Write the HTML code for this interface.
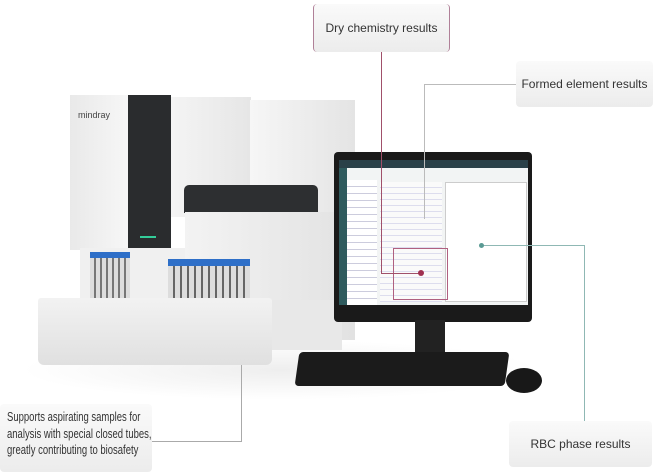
<!DOCTYPE html>
<html><head><style>
body{margin:0;width:659px;height:475px;background:#fff;position:relative;overflow:hidden;font-family:"Liberation Sans",sans-serif;}
div{position:absolute;box-sizing:border-box;}
.box{background:linear-gradient(#fafafa,#ececec);border-radius:4px;color:#333;font-size:12px;display:flex;align-items:center;justify-content:center;white-space:nowrap;}
.ln{background:#8fb8b4;}
.pk{background:#a0506a;}
</style></head><body>
<div style="left:20px;top:340px;width:520px;height:60px;background:radial-gradient(ellipse at center,#eee 0%,#fff 70%);"></div>
<div style="left:70px;top:95px;width:60px;height:155px;background:linear-gradient(90deg,#e9e9e9,#f7f7f7);"></div>
<div style="left:78px;top:110px;font-size:9px;color:#444;">mindray</div>
<div style="left:128px;top:95px;width:43px;height:155px;background:#2a2c2e;"></div>
<div style="left:140px;top:236px;width:16px;height:2px;background:#3c9;"></div>
<div style="left:171px;top:97px;width:80px;height:120px;background:linear-gradient(90deg,#f4f4f4,#e6e6e6);"></div>
<div style="left:250px;top:100px;width:105px;height:112px;background:linear-gradient(90deg,#f6f6f6,#e4e4e4);"></div>
<div style="left:184px;top:185px;width:134px;height:28px;background:#2d2f31;border-radius:5px 5px 0 0;"></div>
<div style="left:185px;top:212px;width:170px;height:128px;background:linear-gradient(90deg,#f3f3f3,#e2e2e2);"></div>
<div style="left:80px;top:248px;width:105px;height:55px;background:#f0f0f0;"></div>
<div style="left:90px;top:252px;width:40px;height:6px;background:#2e6fc8;"></div>
<div style="left:90px;top:258px;width:40px;height:45px;background:repeating-linear-gradient(90deg,#ddd 0 4px,#777 4px 6px);"></div>
<div style="left:168px;top:259px;width:82px;height:7px;background:#2e6fc8;"></div>
<div style="left:168px;top:266px;width:82px;height:42px;background:repeating-linear-gradient(90deg,#ddd 0 5px,#666 5px 7px);"></div>
<div style="left:38px;top:298px;width:234px;height:67px;background:linear-gradient(#f2f2f2,#e0e0e0);border-radius:3px 3px 6px 6px;"></div>
<div style="left:272px;top:300px;width:70px;height:50px;background:#e8e8e8;"></div>
<div style="left:334px;top:152px;width:198px;height:170px;background:#1a1a1a;border-radius:4px;"></div>
<div style="left:339px;top:160px;width:189px;height:145px;background:#f2f4f4;"></div>
<div style="left:339px;top:160px;width:189px;height:8px;background:#2a4048;"></div>
<div style="left:339px;top:168px;width:8px;height:137px;background:#2f5b5e;"></div>
<div style="left:347px;top:180px;width:30px;height:125px;background:repeating-linear-gradient(#fff 0 6px,#ccd 6px 7px);"></div>
<div style="left:380px;top:182px;width:62px;height:120px;background:repeating-linear-gradient(#fafafa 0 5px,#dde 5px 6px);"></div>
<div style="left:445px;top:182px;width:82px;height:120px;background:#fff;border:1px solid #ccc;"></div>
<div style="left:393px;top:248px;width:55px;height:52px;border:1px solid #b06080;"></div>
<div style="left:415px;top:320px;width:30px;height:45px;background:#222;"></div>
<div style="left:385px;top:355px;width:90px;height:10px;background:#1d1d1d;border-radius:3px;"></div>
<div style="left:297px;top:352px;width:210px;height:34px;background:#1b1b1b;border-radius:4px;transform:skewX(-8deg);"></div>
<div style="left:506px;top:368px;width:36px;height:25px;background:#181818;border-radius:50%;"></div>
<div class="pk" style="left:381px;top:52px;width:1px;height:222px;"></div>
<div class="pk" style="left:381px;top:273px;width:40px;height:1px;"></div>
<div style="left:418px;top:270px;width:6px;height:6px;border-radius:50%;background:#a03050;"></div>
<div style="left:424px;top:84px;width:92px;height:1px;background:#bbb;"></div>
<div style="left:424px;top:84px;width:1px;height:135px;background:#bbb;"></div>
<div class="ln" style="left:584px;top:245px;width:1px;height:176px;"></div>
<div class="ln" style="left:481px;top:245px;width:104px;height:1px;"></div>
<div style="left:479px;top:243px;width:5px;height:5px;border-radius:50%;background:#5a9a94;"></div>
<div style="left:152px;top:441px;width:90px;height:1px;background:#aaa;"></div>
<div style="left:241px;top:365px;width:1px;height:77px;background:#aaa;"></div>
<div class="box" style="left:313px;top:4px;width:137px;height:48px;border-left:1px solid #b08098;border-right:1px solid #b08098;">Dry chemistry results</div>
<div class="box" style="left:516px;top:61px;width:137px;height:46px;">Formed element results</div>
<div class="box" style="left:0px;top:404px;width:152px;height:68px;"></div>
<div style="left:7px;top:409px;font-size:13px;line-height:16.5px;color:#333;white-space:nowrap;transform:scaleX(0.73);transform-origin:0 0;">Supports aspirating samples for<br>analysis with special closed tubes,<br>greatly contributing to biosafety</div>
<div class="box" style="left:509px;top:421px;width:143px;height:46px;">RBC phase results</div>
</body></html>
